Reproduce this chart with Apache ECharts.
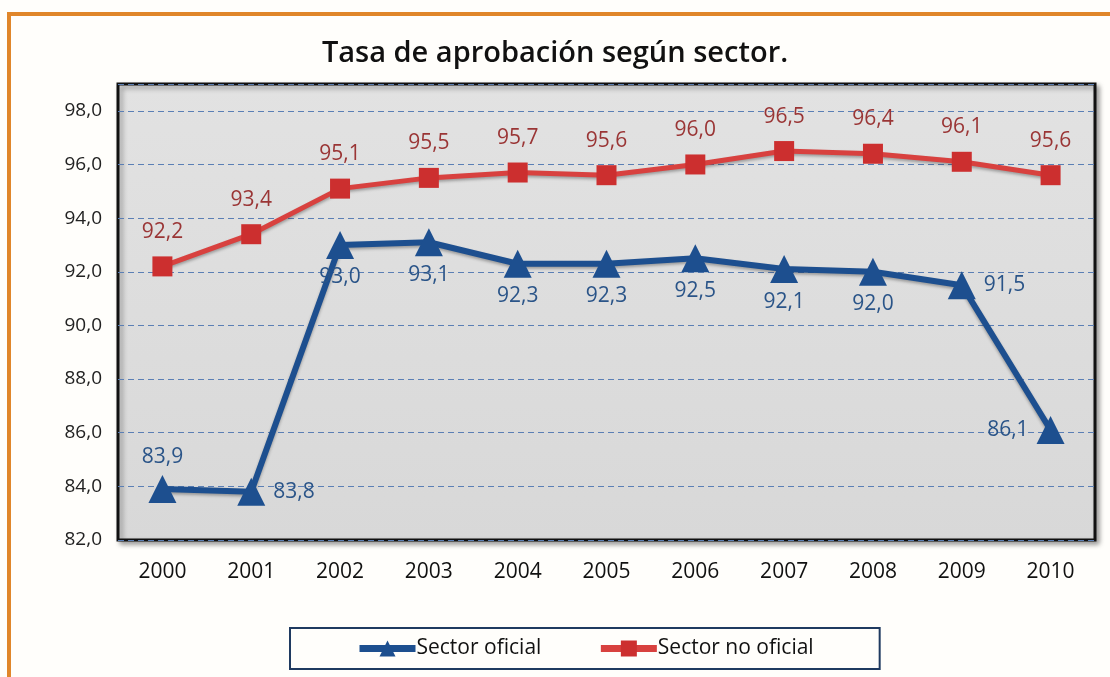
<!DOCTYPE html>
<html><head><meta charset="utf-8">
<script src="https://cdn.jsdelivr.net/npm/echarts@6/dist/echarts.min.js"></script>
<style>html,body{margin:0;padding:0;background:#fff;}#c{width:1110px;height:677px;}</style>
</head><body><div id="c"></div>
<script>
const years = ['2000','2001','2002','2003','2004','2005','2006','2007','2008','2009','2010'];
const sectorOficial = [83.9, 83.8, 93.0, 93.1, 92.3, 92.3, 92.5, 92.1, 92.0, 91.5, 86.1];
const sectorNoOficial = [92.2, 93.4, 95.1, 95.5, 95.7, 95.6, 96.0, 96.5, 96.4, 96.1, 95.6];
const oficialLabelPos = ['top','right','bottom','bottom','bottom','bottom','bottom','bottom','bottom','right','left'];

const fmt = v => Number(v).toFixed(1).replace('.', ',');
const FONT = 'Open Sans';
const chart = echarts.init(document.getElementById('c'));
chart.setOption({
  backgroundColor: '#fffefb',
  animation: false,
  graphic: [{
    type: 'rect', shape: {x: 9, y: 14, width: 1200, height: 700},
    style: {fill: 'none', stroke: '#e0862a', lineWidth: 4}, z: 100
  }],
  title: {
    text: 'Tasa de aprobación según sector.', left: 'center', top: 34,
    textStyle: {fontFamily: FONT, fontSize: 29, fontWeight: 600, color: '#111'}
  },
  legend: {
    bottom: 8, left: 290, itemGap: 56, itemWidth: 56, itemHeight: 20,
    padding: [10, 66, 10, 66],
    borderColor: '#1f3a60', borderWidth: 2,
    lineStyle: {width: 7},
    textStyle: {fontFamily: FONT, fontSize: 21, color: '#111', padding: [0, 0, 0, -4]},
    data: ['Sector oficial', 'Sector no oficial']
  },
  grid: {
    left: 118, right: 15, top: 84, bottom: 137, show: true,
    backgroundColor: {type: 'linear', x: 0, y: 0, x2: 0, y2: 1,
      colorStops: [{offset: 0, color: '#e2e2e2'}, {offset: 1, color: '#d8d8d8'}]},
    borderColor: '#111', borderWidth: 3,
    shadowColor: 'rgba(0,0,0,0.35)', shadowBlur: 5, shadowOffsetX: 3, shadowOffsetY: 3
  },
  xAxis: {
    type: 'category', data: years, boundaryGap: true,
    axisLine: {show: false}, axisTick: {show: false},
    axisLabel: {fontFamily: FONT, fontSize: 21, color: '#111', margin: 22}
  },
  yAxis: {
    type: 'value', min: 82, max: 99, interval: 2,
    axisLine: {show: false}, axisTick: {show: false},
    axisLabel: {fontFamily: FONT, fontSize: 19, color: '#222', margin: 16,
      formatter: v => (v % 2 === 0 ? fmt(v) : '')},
    splitLine: {lineStyle: {color: '#5b7fb5', type: [6, 4], width: 1}}
  },
  series: [{
    name: 'Sector oficial', type: 'line', data: sectorOficial.map((v, i) => ({
      value: v, label: {position: oficialLabelPos[i]}
    })),
    symbol: 'triangle', symbolSize: 28,
    lineStyle: {color: '#1d4f8f', width: 6, shadowColor: 'rgba(0,0,0,0.3)', shadowBlur: 3, shadowOffsetY: 2},
    itemStyle: {color: '#1d4f8f'},
    label: {show: true, formatter: p => fmt(p.value), fontFamily: FONT, fontSize: 21, color: '#2a5488', distance: 8},
    z: 3
  }, {
    name: 'Sector no oficial', type: 'line', data: sectorNoOficial,
    symbol: 'rect', symbolSize: 20,
    lineStyle: {color: '#d8413f', width: 5, shadowColor: 'rgba(0,0,0,0.3)', shadowBlur: 3, shadowOffsetY: 2},
    itemStyle: {color: '#cc2f2f'},
    label: {show: true, position: 'top', formatter: p => fmt(p.value), fontFamily: FONT, fontSize: 21, color: '#9a3535', distance: 14},
    z: 2
  }]
});
</script></body></html>
